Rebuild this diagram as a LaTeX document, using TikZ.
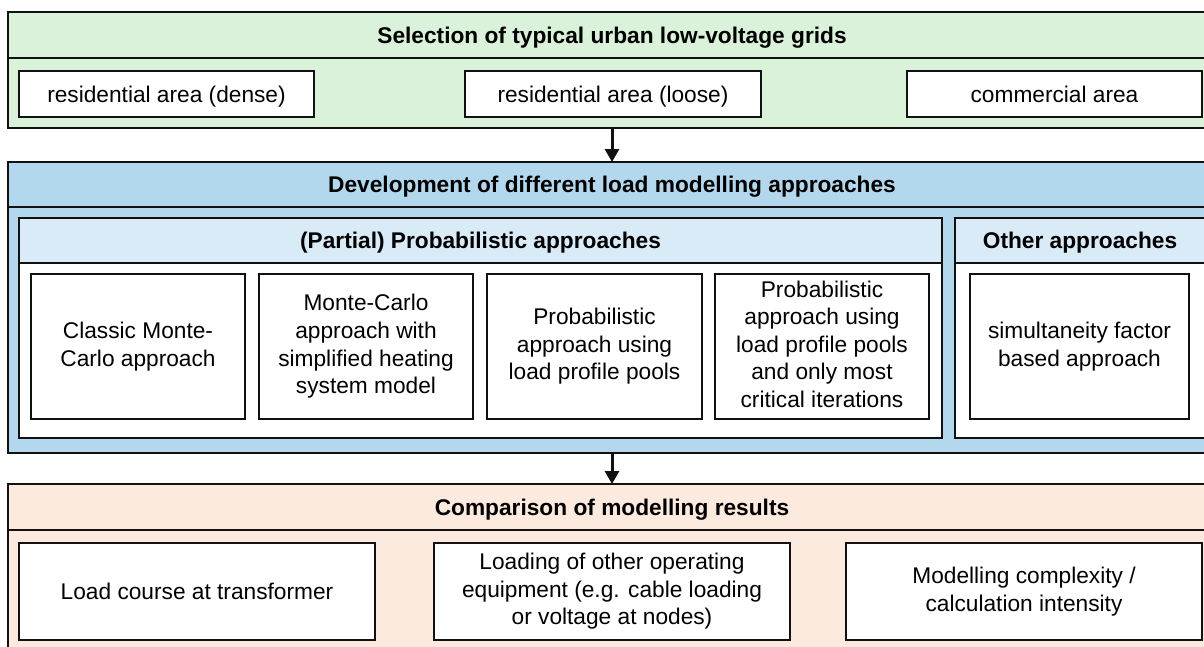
\documentclass[tikz,border=0pt]{standalone}
\usepackage{fontspec}
\setmainfont{Liberation Sans}
\usetikzlibrary{arrows.meta}
\definecolor{gfill}{HTML}{D9F2D9}
\definecolor{bfill}{HTML}{B3D8EE}
\definecolor{lbfill}{HTML}{DAEBF8}
\definecolor{pfill}{HTML}{FDEADF}
\definecolor{edge}{HTML}{111111}
\newcommand{\topstrut}{\rule{0pt}{21.2pt}}
\newcommand{\botstrut}{\rule[-5pt]{0pt}{5pt}}
\tikzset{
  frame/.style={draw=edge, line width=1.8pt, inner sep=0pt, outer sep=0pt},
  leaf/.style={frame, fill=white, align=center, font=\fontsize{22.7}{27.6}\selectfont,
    execute at begin node=\topstrut, execute at end node=\botstrut},
  head/.style={frame, align=center, font=\fontsize{22.7}{27.6}\selectfont\bfseries,
    execute at begin node=\topstrut, execute at end node=\botstrut},
  flow/.style={draw=edge, line width=3pt, -{Triangle[width=14pt,length=13pt]}}
}
\begin{document}
\begin{tikzpicture}[x=1pt,y=-1pt]
\useasboundingbox (0,0) rectangle (1204,646);
\clip (0,0) rectangle (1204,646);
\fill[white] (0,0) rectangle (1204,646);
% green block
\node[frame, fill=gfill, minimum width=1208pt, minimum height=116pt] (green) at (612,70) {};
\node[head, fill=gfill, minimum width=1208pt, minimum height=46pt] (greenhead) at (612,35) {Selection of typical urban low-voltage grids};
\node[leaf, minimum width=295pt, minimum height=46pt] (g1) at (166.5,94) {residential area (dense)};
\node[leaf, minimum width=296pt, minimum height=46pt] (g2) at (613,94) {residential area (loose)};
\node[leaf, minimum width=295pt, minimum height=46pt] (g3) at (1054.5,94) {commercial area};
% blue block
\node[frame, fill=bfill, minimum width=1208pt, minimum height=291pt] (blue) at (612,307.5) {};
\node[head, fill=bfill, minimum width=1208pt, minimum height=45pt] (bluehead) at (612,184.5) {Development of different load modelling approaches};
\node[frame, fill=white, minimum width=923pt, minimum height=220pt] (prob) at (480.5,328) {};
\node[head, fill=lbfill, minimum width=923pt, minimum height=45pt] (probhead) at (480.5,240.5) {(Partial) Probabilistic approaches};
\node[frame, fill=white, minimum width=250pt, minimum height=220pt] (other) at (1080,328) {};
\node[head, fill=lbfill, minimum width=250pt, minimum height=45pt] (otherhead) at (1080,240.5) {Other approaches};
\node[leaf, minimum width=214pt, minimum height=145pt] (p1) at (138,346.5) {Classic Monte-\\Carlo approach};
\node[leaf, minimum width=214pt, minimum height=145pt] (p2) at (366,346.5) {Monte-Carlo\\approach with\\simplified heating\\system model};
\node[leaf, minimum width=215pt, minimum height=145pt] (p3) at (594.5,346.5) {Probabilistic\\approach using\\load profile pools};
\node[leaf, minimum width=214pt, minimum height=145pt] (p4) at (822,346.5) {Probabilistic\\approach using\\load profile pools\\and only most\\critical iterations};
\node[leaf, minimum width=219pt, minimum height=145pt] (o1) at (1079.5,346.5) {simultaneity factor\\based approach};
% peach block
\node[frame, fill=pfill, minimum width=1208pt, minimum height=216pt] (peach) at (612,592) {};
\node[head, fill=pfill, minimum width=1208pt, minimum height=46pt] (peachhead) at (612,507) {Comparison of modelling results};
\node[leaf, minimum width=356pt, minimum height=97pt] (c1) at (197,591.5) {Load course at transformer};
\node[leaf, minimum width=356pt, minimum height=97pt] (c2) at (612,591.5) {Loading of other operating\\equipment (e.g. cable loading\\or voltage at nodes)};
\node[leaf, minimum width=356pt, minimum height=97pt] (c3) at (1024,591.5) {Modelling complexity /\\calculation intensity};
% connectors
\draw[flow] (green.south) -- (bluehead.north);
\draw[flow] (blue.south) -- (peachhead.north);
\end{tikzpicture}
\end{document}
